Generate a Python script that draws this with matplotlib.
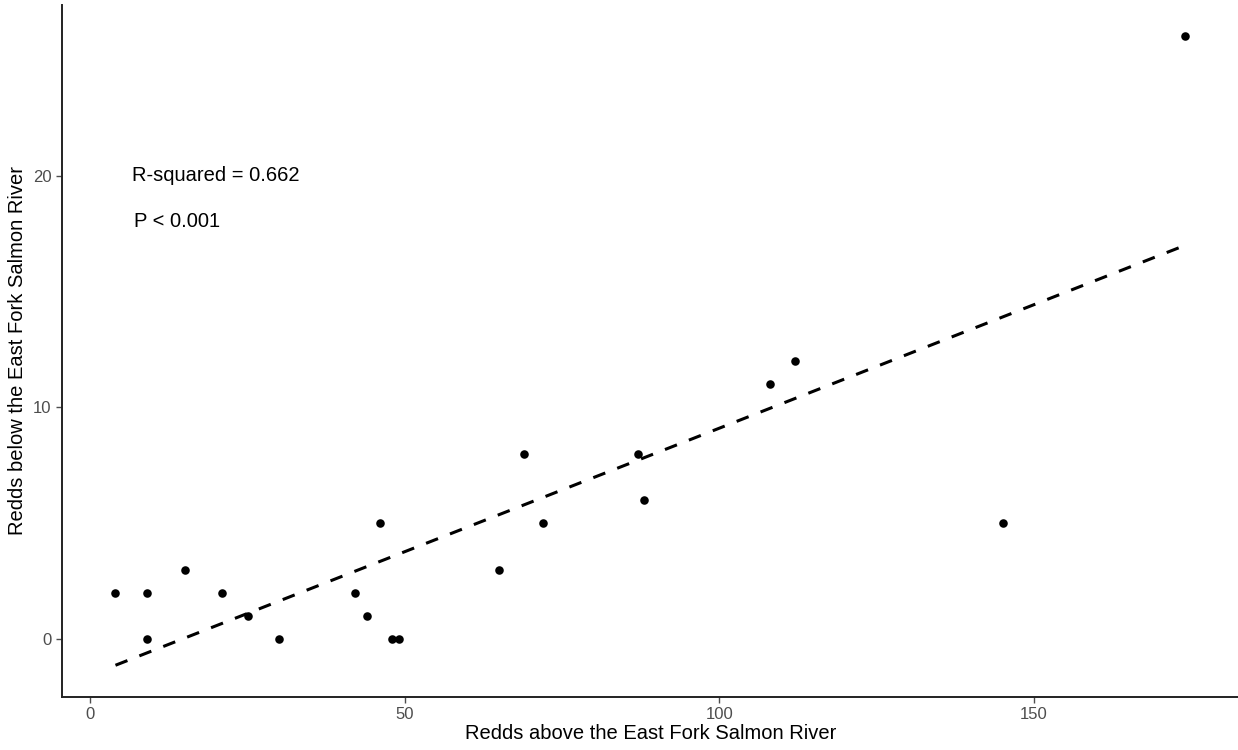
import numpy as np
import matplotlib.pyplot as plt

plt.rcParams['font.family'] = ['Liberation Sans', 'DejaVu Sans']

# redds above / below the East Fork Salmon River
above = [4, 9, 9, 15, 21, 25, 30, 42, 44, 46, 48, 49, 65, 69, 72, 87, 88, 108, 112, 145, 174]
below = [2, 2, 0, 3, 2, 1, 0, 2, 1, 5, 0, 0, 3, 8, 5, 8, 6, 11, 12, 5, 26]
xticks = [0, 50, 100, 150]
yticks = [0, 10, 20]

x = np.array(above, dtype=float)
y = np.array(below, dtype=float)
slope, icpt = np.polyfit(x, y, 1)
xf = np.array([x.min(), x.max()])
yf = icpt + slope * xf

fig = plt.figure(figsize=(12.38, 7.5), dpi=100)
ax = fig.add_axes([62 / 1238, 53.3 / 750, 1176.5 / 1238, 691.7 / 750])

ax.scatter(x, y, s=38, color='black', zorder=3, linewidths=0)
ax.plot(xf, yf, color='black', lw=2.2, dashes=(4.2, 4.2), zorder=2)

ax.text(20, 20, 'R-squared = 0.662', ha='center', va='center', fontsize=14.5)
ax.text(13.8, 18, 'P < 0.001', ha='center', va='center', fontsize=14.5)

xr = x.max() - x.min()
ax.set_xlim(x.min() - 0.05 * xr, x.max() + 0.05 * xr)
ylo = min(y.min(), yf.min())
yhi = max(y.max(), yf.max())
yr = yhi - ylo
ax.set_ylim(ylo - 0.05 * yr, yhi + 0.05 * yr)

ax.set_xticks(xticks)
ax.set_yticks(yticks)
ax.tick_params(colors='#4D4D4D', labelsize=12, length=4, width=1)
for s in ['top', 'right']:
    ax.spines[s].set_visible(False)
for s in ['left', 'bottom']:
    ax.spines[s].set_linewidth(1.4)
    ax.spines[s].set_color('#222222')

ax.set_xlabel('Redds above the East Fork Salmon River', fontsize=14.5, labelpad=1)
ax.set_ylabel('Redds below the East Fork Salmon River', fontsize=14.5, labelpad=4)

plt.savefig('out.png', dpi=100)
plt.close()
